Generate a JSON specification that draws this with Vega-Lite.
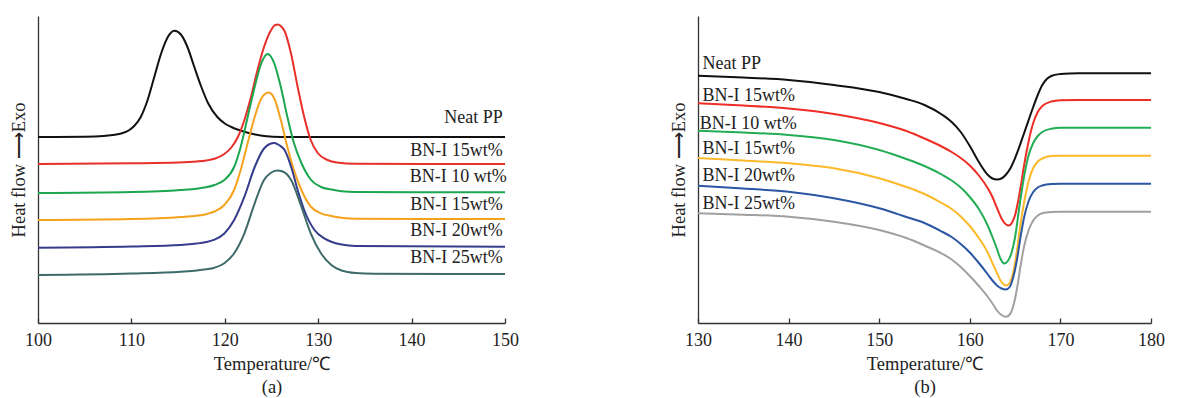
{
  "$schema": "https://vega.github.io/schema/vega-lite/v6.json",
  "background": "white",
  "padding": {"left": 9, "top": 16, "right": 5, "bottom": 5},
  "spacing": 150,
  "config": {
    "view": {"stroke": null},
    "font": "Liberation Serif",
    "axis": {
      "grid": false,
      "domainColor": "#333333",
      "domainWidth": 1.3,
      "tickColor": "#333333",
      "tickWidth": 1.3,
      "labelFont": "Liberation Serif",
      "labelFontSize": 18,
      "labelColor": "#222222",
      "labelFlush": false,
      "titleFont": "Liberation Serif",
      "titleFontSize": 18.5,
      "titleFontWeight": "normal",
      "titleColor": "#222222"
    }
  },
  "datasets": {
    "a": [
      {"s":"s0","T":100,"v":186},{"s":"s0","T":105,"v":186.3},{"s":"s0","T":107,"v":187},{"s":"s0","T":108,"v":188},{"s":"s0","T":109,"v":189.7},{"s":"s0","T":109.7,"v":192.5},{"s":"s0","T":110.3,"v":197},{"s":"s0","T":111,"v":206},{"s":"s0","T":111.7,"v":222},{"s":"s0","T":112.45,"v":246},{"s":"s0","T":113.2,"v":270},{"s":"s0","T":113.9,"v":286},{"s":"s0","T":114.6,"v":292.3},{"s":"s0","T":115.3,"v":288.5},{"s":"s0","T":116,"v":276},{"s":"s0","T":116.7,"v":257},{"s":"s0","T":117.45,"v":237},{"s":"s0","T":118.2,"v":220},{"s":"s0","T":119.2,"v":206},{"s":"s0","T":120,"v":199.5},{"s":"s0","T":120.7,"v":196},{"s":"s0","T":121.5,"v":193},{"s":"s0","T":122.45,"v":190.3},{"s":"s0","T":124.2,"v":187},{"s":"s0","T":126,"v":186},{"s":"s0","T":150,"v":186},
      {"s":"s1","T":100,"v":159},{"s":"s1","T":110,"v":159.7},{"s":"s1","T":115,"v":160.5},{"s":"s1","T":117,"v":161.5},{"s":"s1","T":118,"v":162.5},{"s":"s1","T":118.9,"v":164.3},{"s":"s1","T":119.95,"v":169},{"s":"s1","T":120.7,"v":175.5},{"s":"s1","T":121.4,"v":186},{"s":"s1","T":122.1,"v":203},{"s":"s1","T":122.8,"v":226},{"s":"s1","T":123.5,"v":253},{"s":"s1","T":124.2,"v":276},{"s":"s1","T":124.9,"v":292},{"s":"s1","T":125.4,"v":298},{"s":"s1","T":125.7,"v":298.5},{"s":"s1","T":126.1,"v":296},{"s":"s1","T":126.4,"v":292},{"s":"s1","T":127.1,"v":269},{"s":"s1","T":127.8,"v":236},{"s":"s1","T":128.5,"v":206},{"s":"s1","T":129.2,"v":183},{"s":"s1","T":129.95,"v":170},{"s":"s1","T":131,"v":163},{"s":"s1","T":132,"v":160.5},{"s":"s1","T":134,"v":159.2},{"s":"s1","T":150,"v":159},
      {"s":"s2","T":100,"v":130},{"s":"s2","T":110,"v":131},{"s":"s2","T":115.3,"v":133},{"s":"s2","T":117,"v":134.3},{"s":"s2","T":118,"v":135.7},{"s":"s2","T":118.9,"v":138},{"s":"s2","T":119.95,"v":143},{"s":"s2","T":121,"v":156},{"s":"s2","T":121.7,"v":176},{"s":"s2","T":122.45,"v":206},{"s":"s2","T":123.2,"v":236},{"s":"s2","T":123.9,"v":259.5},{"s":"s2","T":124.3,"v":267},{"s":"s2","T":124.6,"v":269},{"s":"s2","T":124.9,"v":267},{"s":"s2","T":125.3,"v":259.5},{"s":"s2","T":126,"v":236},{"s":"s2","T":126.7,"v":206},{"s":"s2","T":127.4,"v":180},{"s":"s2","T":128.2,"v":160},{"s":"s2","T":129.2,"v":143.5},{"s":"s2","T":130.3,"v":136},{"s":"s2","T":131.4,"v":133.5},{"s":"s2","T":132.5,"v":131.8},{"s":"s2","T":134,"v":131},{"s":"s2","T":150,"v":130.7},
      {"s":"s3","T":100,"v":103},{"s":"s3","T":110,"v":104},{"s":"s3","T":115.3,"v":106},{"s":"s3","T":117,"v":107.3},{"s":"s3","T":118,"v":108.8},{"s":"s3","T":118.9,"v":111.5},{"s":"s3","T":119.95,"v":118},{"s":"s3","T":121,"v":133},{"s":"s3","T":121.7,"v":153},{"s":"s3","T":122.45,"v":180},{"s":"s3","T":123.2,"v":206},{"s":"s3","T":123.9,"v":224.5},{"s":"s3","T":124.3,"v":229},{"s":"s3","T":124.7,"v":230.5},{"s":"s3","T":125,"v":229},{"s":"s3","T":125.3,"v":224.5},{"s":"s3","T":126,"v":203},{"s":"s3","T":126.7,"v":176},{"s":"s3","T":127.4,"v":153},{"s":"s3","T":128.2,"v":133},{"s":"s3","T":129.2,"v":116.5},{"s":"s3","T":130.3,"v":109.7},{"s":"s3","T":131.4,"v":107},{"s":"s3","T":132.5,"v":105.3},{"s":"s3","T":134,"v":104.3},{"s":"s3","T":150,"v":104},
      {"s":"s4","T":100,"v":75.3},{"s":"s4","T":110,"v":76.5},{"s":"s4","T":115.3,"v":78},{"s":"s4","T":117,"v":79.5},{"s":"s4","T":118,"v":81},{"s":"s4","T":118.9,"v":83.3},{"s":"s4","T":119.95,"v":89.5},{"s":"s4","T":121,"v":103},{"s":"s4","T":122.1,"v":126.3},{"s":"s4","T":123.2,"v":156},{"s":"s4","T":124.2,"v":174.5},{"s":"s4","T":124.8,"v":179},{"s":"s4","T":125.3,"v":180},{"s":"s4","T":125.8,"v":178},{"s":"s4","T":126.4,"v":173},{"s":"s4","T":127.1,"v":156.3},{"s":"s4","T":127.8,"v":133},{"s":"s4","T":128.5,"v":113},{"s":"s4","T":129.6,"v":93},{"s":"s4","T":130.65,"v":84.7},{"s":"s4","T":131.4,"v":81.3},{"s":"s4","T":132.5,"v":78.5},{"s":"s4","T":134,"v":77},{"s":"s4","T":150,"v":76.3},
      {"s":"s5","T":100,"v":48},{"s":"s5","T":110,"v":49.5},{"s":"s5","T":115.3,"v":51.3},{"s":"s5","T":117,"v":52.5},{"s":"s5","T":118,"v":53.7},{"s":"s5","T":118.9,"v":55.3},{"s":"s5","T":119.95,"v":59.7},{"s":"s5","T":121,"v":69.7},{"s":"s5","T":122.1,"v":89.7},{"s":"s5","T":123.2,"v":119.7},{"s":"s5","T":124.2,"v":143},{"s":"s5","T":124.9,"v":150},{"s":"s5","T":125.6,"v":152.5},{"s":"s5","T":126.2,"v":151.5},{"s":"s5","T":127.1,"v":143},{"s":"s5","T":128.2,"v":116.3},{"s":"s5","T":129.2,"v":89.7},{"s":"s5","T":130.3,"v":69.7},{"s":"s5","T":131.4,"v":58},{"s":"s5","T":132.5,"v":52.5},{"s":"s5","T":134,"v":50},{"s":"s5","T":136,"v":49.3},{"s":"s5","T":150,"v":49}
    ],
    "b": [
      {"s":"s0","T":130,"v":247.3},{"s":"s0","T":135,"v":245.5},{"s":"s0","T":140,"v":243},{"s":"s0","T":145,"v":238},{"s":"s0","T":150,"v":231},{"s":"s0","T":153,"v":224},{"s":"s0","T":155,"v":218},{"s":"s0","T":157,"v":208},{"s":"s0","T":158,"v":201},{"s":"s0","T":159,"v":191},{"s":"s0","T":160,"v":177},{"s":"s0","T":161,"v":161},{"s":"s0","T":162,"v":148},{"s":"s0","T":162.5,"v":144.5},{"s":"s0","T":163,"v":143.5},{"s":"s0","T":163.5,"v":144.5},{"s":"s0","T":164,"v":148.5},{"s":"s0","T":164.5,"v":155},{"s":"s0","T":165,"v":165},{"s":"s0","T":166,"v":190},{"s":"s0","T":167,"v":216},{"s":"s0","T":167.5,"v":228},{"s":"s0","T":168,"v":238},{"s":"s0","T":168.5,"v":244},{"s":"s0","T":169,"v":247},{"s":"s0","T":170,"v":249},{"s":"s0","T":171,"v":249.6},{"s":"s0","T":172,"v":249.7},{"s":"s0","T":180,"v":249.7},
      {"s":"s1","T":130,"v":219.7},{"s":"s1","T":135,"v":217.5},{"s":"s1","T":140,"v":214.5},{"s":"s1","T":145,"v":209},{"s":"s1","T":150,"v":200},{"s":"s1","T":153,"v":192},{"s":"s1","T":155,"v":184.5},{"s":"s1","T":157,"v":176},{"s":"s1","T":158,"v":171},{"s":"s1","T":159,"v":165},{"s":"s1","T":160,"v":157.5},{"s":"s1","T":161,"v":147.5},{"s":"s1","T":162,"v":134.5},{"s":"s1","T":162.5,"v":126},{"s":"s1","T":163,"v":115},{"s":"s1","T":163.5,"v":104.5},{"s":"s1","T":164,"v":98.5},{"s":"s1","T":164.3,"v":97.5},{"s":"s1","T":164.7,"v":101},{"s":"s1","T":165,"v":108},{"s":"s1","T":165.5,"v":130},{"s":"s1","T":166,"v":158},{"s":"s1","T":166.5,"v":182},{"s":"s1","T":167,"v":200},{"s":"s1","T":167.5,"v":211},{"s":"s1","T":168,"v":217},{"s":"s1","T":169,"v":221.5},{"s":"s1","T":170,"v":222.7},{"s":"s1","T":172,"v":223},{"s":"s1","T":180,"v":223},
      {"s":"s2","T":130,"v":192.3},{"s":"s2","T":135,"v":190.5},{"s":"s2","T":140,"v":188},{"s":"s2","T":145,"v":183},{"s":"s2","T":150,"v":173},{"s":"s2","T":153,"v":164},{"s":"s2","T":155,"v":157},{"s":"s2","T":157,"v":148},{"s":"s2","T":158,"v":142.5},{"s":"s2","T":159,"v":135.5},{"s":"s2","T":160,"v":126},{"s":"s2","T":161,"v":114},{"s":"s2","T":162,"v":97},{"s":"s2","T":162.5,"v":86},{"s":"s2","T":163,"v":74},{"s":"s2","T":163.4,"v":64},{"s":"s2","T":163.8,"v":59.5},{"s":"s2","T":164.2,"v":62},{"s":"s2","T":164.6,"v":70},{"s":"s2","T":165,"v":86},{"s":"s2","T":165.5,"v":118},{"s":"s2","T":166,"v":147},{"s":"s2","T":166.5,"v":168},{"s":"s2","T":167,"v":180},{"s":"s2","T":167.5,"v":187},{"s":"s2","T":168,"v":191},{"s":"s2","T":169,"v":194.3},{"s":"s2","T":170,"v":195.3},{"s":"s2","T":180,"v":195.3},
      {"s":"s3","T":130,"v":165},{"s":"s3","T":135,"v":162.5},{"s":"s3","T":140,"v":159.7},{"s":"s3","T":145,"v":154.7},{"s":"s3","T":150,"v":144.7},{"s":"s3","T":153,"v":136},{"s":"s3","T":155,"v":129},{"s":"s3","T":157,"v":119.5},{"s":"s3","T":158,"v":114},{"s":"s3","T":159,"v":106.5},{"s":"s3","T":160,"v":97},{"s":"s3","T":161,"v":85},{"s":"s3","T":162,"v":70},{"s":"s3","T":162.5,"v":60},{"s":"s3","T":163,"v":50},{"s":"s3","T":163.5,"v":41},{"s":"s3","T":164,"v":37.5},{"s":"s3","T":164.4,"v":40},{"s":"s3","T":164.8,"v":51},{"s":"s3","T":165.2,"v":72},{"s":"s3","T":165.6,"v":99},{"s":"s3","T":166,"v":121},{"s":"s3","T":166.5,"v":142},{"s":"s3","T":167,"v":155},{"s":"s3","T":167.5,"v":161.5},{"s":"s3","T":168,"v":164.5},{"s":"s3","T":169,"v":167},{"s":"s3","T":170,"v":167.3},{"s":"s3","T":180,"v":167.3},
      {"s":"s4","T":130,"v":137.3},{"s":"s4","T":135,"v":134.5},{"s":"s4","T":140,"v":131.3},{"s":"s4","T":145,"v":124.7},{"s":"s4","T":150,"v":114.7},{"s":"s4","T":153,"v":106},{"s":"s4","T":155,"v":100},{"s":"s4","T":157,"v":91},{"s":"s4","T":158,"v":86},{"s":"s4","T":159,"v":79},{"s":"s4","T":160,"v":70.5},{"s":"s4","T":161,"v":60},{"s":"s4","T":162,"v":48.5},{"s":"s4","T":162.5,"v":42.5},{"s":"s4","T":163,"v":37.5},{"s":"s4","T":163.5,"v":34.5},{"s":"s4","T":164,"v":33.5},{"s":"s4","T":164.4,"v":36},{"s":"s4","T":164.8,"v":46},{"s":"s4","T":165.2,"v":63},{"s":"s4","T":165.6,"v":86},{"s":"s4","T":166,"v":106},{"s":"s4","T":166.5,"v":122},{"s":"s4","T":167,"v":131},{"s":"s4","T":167.5,"v":135.5},{"s":"s4","T":168,"v":137.5},{"s":"s4","T":169,"v":139},{"s":"s4","T":170,"v":139.3},{"s":"s4","T":180,"v":139.3},
      {"s":"s5","T":130,"v":109.7},{"s":"s5","T":135,"v":108.3},{"s":"s5","T":140,"v":106.3},{"s":"s5","T":145,"v":101.3},{"s":"s5","T":150,"v":93},{"s":"s5","T":153,"v":85},{"s":"s5","T":155,"v":77.5},{"s":"s5","T":157,"v":69},{"s":"s5","T":158,"v":63.5},{"s":"s5","T":159,"v":56},{"s":"s5","T":160,"v":47},{"s":"s5","T":161,"v":37},{"s":"s5","T":162,"v":26},{"s":"s5","T":162.5,"v":19.5},{"s":"s5","T":163,"v":12.5},{"s":"s5","T":163.5,"v":8},{"s":"s5","T":164,"v":6.3},{"s":"s5","T":164.4,"v":8.5},{"s":"s5","T":164.8,"v":17},{"s":"s5","T":165.2,"v":34},{"s":"s5","T":165.6,"v":57},{"s":"s5","T":166,"v":77},{"s":"s5","T":166.5,"v":93},{"s":"s5","T":167,"v":102.5},{"s":"s5","T":167.5,"v":107.5},{"s":"s5","T":168,"v":109.8},{"s":"s5","T":169,"v":111},{"s":"s5","T":170,"v":111.3},{"s":"s5","T":180,"v":111.3}
    ],
    "la": [
      {"T":149.75,"v":204.7,"label":"Neat PP"},
      {"T":149.75,"v":172.3,"label":"BN-I 15wt%"},
      {"T":150.2,"v":146.3,"label":"BN-I 10 wt%"},
      {"T":149.75,"v":118,"label":"BN-I 15wt%"},
      {"T":149.75,"v":92,"label":"BN-I 20wt%"},
      {"T":149.75,"v":64.7,"label":"BN-I 25wt%"}
    ],
    "lb": [
      {"T":130.5,"v":259,"label":"Neat PP"},
      {"T":130.5,"v":227,"label":"BN-I 15wt%"},
      {"T":130.2,"v":199,"label":"BN-I 10 wt%"},
      {"T":130.5,"v":174,"label":"BN-I 15wt%"},
      {"T":130.5,"v":147.3,"label":"BN-I 20wt%"},
      {"T":130.5,"v":119,"label":"BN-I 25wt%"}
    ]
  },
  "hconcat": [
    {
      "width": 467,
      "height": 307,
      "layer": [
        {
          "data": {"name": "a"},
          "mark": {"type": "line", "interpolate": "monotone", "strokeWidth": 2},
          "encoding": {
            "x": {"field": "T", "type": "quantitative", "scale": {"domain": [100, 150], "nice": false},
              "axis": {"values": [100, 110, 120, 130, 140, 150], "tickSize": -5, "labelPadding": 13, "title": ["Temperature/℃", "(a)"], "titleLineHeight": 23, "titlePadding": 5}},
            "y": {"field": "v", "type": "quantitative", "scale": {"domain": [0, 307], "nice": false, "zero": false},
              "axis": {"labels": false, "ticks": false, "title": "Heat flow ⟶Exo", "titlePadding": 10}},
            "color": {"field": "s", "type": "nominal", "legend": null,
              "scale": {"domain": ["s0","s1","s2","s3","s4","s5"], "range": ["#111111","#e8302a","#1ca650","#f5a21d","#353c8c","#3e6a6a"]}},
            "order": {"field": "T", "type": "quantitative"}
          }
        },
        {
          "data": {"name": "la"},
          "mark": {"type": "text", "align": "right", "baseline": "middle", "font": "Liberation Serif", "fontSize": 18, "color": "#222222"},
          "encoding": {
            "x": {"field": "T", "type": "quantitative"},
            "y": {"field": "v", "type": "quantitative"},
            "text": {"field": "label"}
          }
        }
      ]
    },
    {
      "width": 453,
      "height": 307,
      "layer": [
        {
          "data": {"name": "b"},
          "mark": {"type": "line", "interpolate": "monotone", "strokeWidth": 2},
          "encoding": {
            "x": {"field": "T", "type": "quantitative", "scale": {"domain": [130, 180], "nice": false},
              "axis": {"values": [130, 140, 150, 160, 170, 180], "tickSize": -5, "labelPadding": 13, "title": ["Temperature/℃", "(b)"], "titleLineHeight": 23, "titlePadding": 5}},
            "y": {"field": "v", "type": "quantitative", "scale": {"domain": [0, 307], "nice": false, "zero": false},
              "axis": {"labels": false, "ticks": false, "title": "Heat flow ⟶Exo", "titlePadding": 10}},
            "color": {"field": "s", "type": "nominal", "legend": null,
              "scale": {"domain": ["s0","s1","s2","s3","s4","s5"], "range": ["#111111","#ee2d24","#22ad55","#fbb929","#2a56a3","#a0a0a0"]}},
            "order": {"field": "T", "type": "quantitative"}
          }
        },
        {
          "data": {"name": "lb"},
          "mark": {"type": "text", "align": "left", "baseline": "middle", "font": "Liberation Serif", "fontSize": 18, "color": "#222222"},
          "encoding": {
            "x": {"field": "T", "type": "quantitative"},
            "y": {"field": "v", "type": "quantitative"},
            "text": {"field": "label"}
          }
        }
      ],
      "resolve": {"scale": {"color": "independent"}}
    }
  ],
  "resolve": {"scale": {"color": "independent", "x": "independent", "y": "independent"}}
}
